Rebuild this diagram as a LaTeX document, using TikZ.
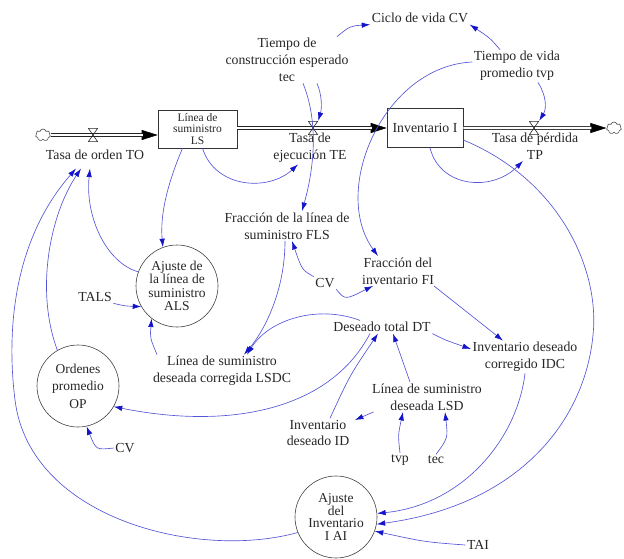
\documentclass[tikz,border=0pt]{standalone}
\usepackage{fontspec}
\setmainfont{Liberation Serif}
\usetikzlibrary{arrows.meta,shapes.symbols}
\definecolor{lineblue}{RGB}{85,85,215}
\definecolor{tipblue}{RGB}{20,20,200}
\begin{document}
\begin{tikzpicture}[x=1pt,y=-1pt,
  lbl/.style={align=center, inner sep=1.5pt, font=\fontsize{13.8}{16.8}\selectfont, text=black!85},
  aux/.style={circle, draw=black!75, line width=0.6pt, minimum size=82pt, inner sep=0pt, align=center, text=black!85},
  stock/.style={draw=black!80, line width=0.6pt, align=center, inner sep=0pt, text=black!85},
  conn/.style={draw=lineblue, line width=0.65pt, -{Latex[length=8.5pt,width=5.5pt,color=tipblue]}},
  pipe/.style={draw=black!85, double=white, double distance=2.4pt, line width=0.6pt},
  flowtip/.style={draw=black, line width=0.6pt, -{Triangle[length=16pt,width=10pt]}},
  valve/.style={inner sep=0pt, minimum width=10pt, minimum height=14pt,
    path picture={\draw[black!85, line width=0.6pt]
      ([shift={(0.4pt,-0.4pt)}]path picture bounding box.north west) --
      ([shift={(-0.4pt,-0.4pt)}]path picture bounding box.north east) --
      ([shift={(0.4pt,0.4pt)}]path picture bounding box.south west) --
      ([shift={(-0.4pt,0.4pt)}]path picture bounding box.south east) -- cycle;}},
  cloudy/.style={cloud, cloud puffs=7, aspect=1.3, draw=black!70, line width=0.6pt, minimum width=15pt, minimum height=12pt, inner sep=0pt}
]
\useasboundingbox (0,0) rectangle (624,558);

% stocks and clouds
\node[cloudy] (cL) at (43,135) {};
\node[stock, minimum width=79pt, minimum height=38pt, font=\fontsize{11.5}{11.5}\selectfont] (LS) at (197.5,129) {Línea de\\suministro\\LS};
\node[stock, minimum width=76pt, minimum height=39pt, font=\fontsize{13.8}{16}\selectfont] (Inv) at (425,128) {Inventario I};
\node[cloudy] (cR) at (614,128) {};

% pipes
\draw[flowtip] (cL.east) -- (cL.east -| LS.west);
\draw[pipe, shorten >=15pt] (cL.east) -- (cL.east -| LS.west);
\draw[flowtip] (LS.east |- Inv.west) -- (Inv.west);
\draw[pipe, shorten >=15pt] (LS.east |- Inv.west) -- (Inv.west);
\draw[flowtip] (Inv.east) -- (cR.west);
\draw[pipe, shorten >=15pt] (Inv.east) -- (cR.west);

% valves
\node[valve] (vTO) at (93,135) {};
\node[valve] (vTE) at (313,128) {};
\node[valve] (vTP) at (534,128) {};

% labels and variables
\node[lbl] (TO) at (95,155) {Tasa de orden TO};
\node[lbl] (TE) at (310,148) {Tasa de\\ejecución TE};
\node[lbl] (TP) at (535,146) {Tasa de pérdida\\TP};
\node[lbl] (CVt) at (420,18) {Ciclo de vida CV};
\node[lbl] (tec) at (287,60) {Tiempo de\\construcción esperado\\tec};
\node[lbl] (tvp) at (517,66) {Tiempo de vida\\promedio tvp};
\node[lbl] (FLS) at (287,226) {Fracción de la línea de\\suministro FLS};
\node[lbl] (FI) at (398,271) {Fracción del\\inventario FI};
\node[lbl] (CVm) at (325,283) {CV};
\node[aux, font=\fontsize{13.5}{13.5}\selectfont] (ALS) at (177,286) {Ajuste de\\la línea de\\suministro\\ALS};
\node[lbl] (TALS) at (95,297) {TALS};
\node[lbl] (LSDC) at (222,371) {Línea de suministro\\deseada corregida LSDC};
\node[lbl] (DT) at (382,327) {Deseado total DT};
\node[lbl] (IDC) at (525,357) {Inventario deseado\\corregido IDC};
\node[aux, font=\fontsize{13.5}{17.5}\selectfont] (OP) at (78,386) {Ordenes\\promedio\\OP};
\node[lbl] (CVl) at (125,448) {CV};
\node[lbl] (LSD) at (427,397) {Línea de suministro\\deseada LSD};
\node[lbl] (ID) at (318,433) {Inventario\\deseado ID};
\node[lbl] (tvpl) at (400,460) {tvp};
\node[lbl] (tecl) at (436,460) {tec};
\node[aux, font=\fontsize{13.5}{12.5}\selectfont] (AI) at (336,517) {Ajuste\\del\\Inventario\\I AI};
\node[lbl] (TAI) at (478,545) {TAI};

% connectors
\draw[conn] ([xshift=50pt]tec.north) .. controls (350,26) .. (CVt.south west);
\draw[conn] ([xshift=-17pt]tvp.north) .. controls (490,38) .. (CVt.south east);
\draw[conn] ([xshift=21pt]tvp.south) .. controls (546,95) and (547,108) .. (vTP.north east);
\draw[conn] ([xshift=30pt]tec.south) .. controls (322,95) and (322,108) .. (vTE.north east);
\draw[conn] ([xshift=16pt]tec.south) .. controls (318,120) and (315,165) .. ([xshift=15pt]FLS.north);
\draw[conn] ([yshift=4pt]tvp.west) .. controls (384,66) and (330,190) .. ([xshift=-20pt]FI.north);
\draw[conn] ([xshift=5pt]LS.south) .. controls (215,188) and (268,192) .. ([xshift=-12pt]TE.south);
\draw[conn] ([xshift=5pt]Inv.south) .. controls (440,188) and (492,192) .. ([xshift=-12pt]TP.south);
\draw[conn] ([yshift=-12pt]Inv.east) .. controls (560,180) and (600,270) .. (593,335)
            .. controls (585,420) and (520,505) .. (AI.-10);
\draw[conn] (IDC.south) .. controls (517,440) and (462,505) .. (AI.5);
\draw[conn] (TAI.west) .. controls (425,542) .. (AI.-20);
\draw[conn] ([xshift=-15pt]LS.south) .. controls (167,185) and (160,215) .. (ALS.110);
\draw[conn] (ALS.160) .. controls (105,262) and (85,215) .. ([xshift=-5pt,yshift=-7pt]TO.south);
\draw[conn] (OP.120) .. controls (35,290) and (50,215) .. ([xshift=-14pt,yshift=-7pt]TO.south);
\draw[conn] (AI.202) .. controls (200,560) and (30,520) .. (15,400)
            .. controls (9,352) and (5,250) .. ([xshift=-19pt,yshift=-7pt]TO.south);
\draw[conn] (TALS.south east) .. controls (125,306) .. (ALS.210);
\draw[conn] ([xshift=-65pt]LSDC.north) .. controls (150,338) .. (ALS.232);
\draw[conn] ([xshift=-2pt]FLS.south) .. controls (285,290) and (265,330) .. ([xshift=22pt]LSDC.north);
\draw[conn] ([xshift=-22pt]DT.north) .. controls (320,305) and (270,318) .. ([xshift=25pt]LSDC.north);
\draw[conn] (CVm.north west) .. controls (302,270) .. ([xshift=5pt]FLS.south);
\draw[conn] (CVm.south east) .. controls (345,300) .. ([xshift=-25pt]FI.south);
\draw[conn] ([xshift=36pt]FI.south) -- ([xshift=-22pt]IDC.north);
\draw[conn] (DT.south east) .. controls (445,340) .. ([yshift=8pt]IDC.west);
\draw[conn] ([xshift=-17pt]LSD.north) -- ([xshift=11pt]DT.south);
\draw[conn] ([xshift=12pt]ID.north) .. controls (350,375) .. ([xshift=-4pt]DT.south);
\draw[conn] ([xshift=-12pt]DT.south) .. controls (330,410) and (230,430) .. (OP.-30);
\draw[conn] (CVl.west) .. controls (96,450) .. (OP.-78);
\draw[conn] (tvpl.north) .. controls (398,435) .. ([xshift=-24pt]LSD.south);
\draw[conn] (tecl.north) .. controls (448,438) .. ([xshift=18pt]LSD.south);
\draw[conn] ([xshift=3pt]LSD.south west) -- ([xshift=4pt,yshift=13pt]ID.east);
\end{tikzpicture}
\end{document}
